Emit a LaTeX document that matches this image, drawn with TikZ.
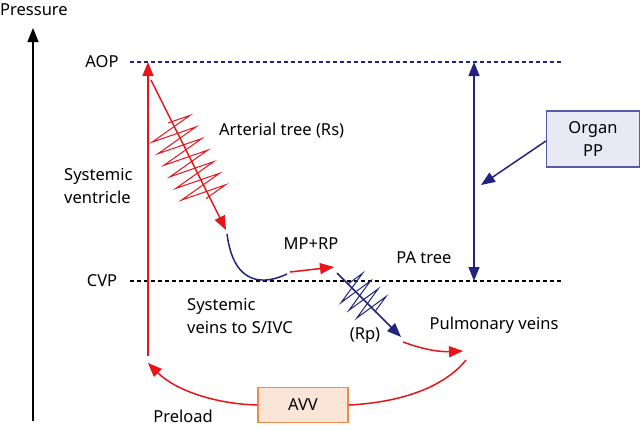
\documentclass[tikz,border=0pt]{standalone}
\usepackage{fontspec}
\setmainfont{Noto Sans}
\usetikzlibrary{arrows.meta,decorations.pathmorphing}
\definecolor{myred}{HTML}{E8141C}
\definecolor{mynavy}{HTML}{23237F}
\definecolor{avvfill}{HTML}{FBE5D6}
\definecolor{avvdraw}{HTML}{F08A4B}
\definecolor{ppfill}{HTML}{E9E9F5}
\definecolor{ppdraw}{HTML}{5A5AA8}
\tikzset{
  lbl/.style={font=\fontsize{16.5}{23}\selectfont, align=left, inner sep=0pt},
  redline/.style={draw=myred, line width=1.5pt},
  navyline/.style={draw=mynavy, line width=1.5pt},
  redtip/.style={-{Triangle[width=11pt,length=14pt]}},
  navytip/.style={-{Triangle[width=11pt,length=14pt]}},
  spring/.style={decorate, decoration={zigzag, amplitude=23pt, segment length=13pt}, line width=1pt},
  box/.style={font=\fontsize{16.5}{23}\selectfont, align=center, minimum width=#1, inner sep=0pt, line width=1.2pt},
}
\begin{document}
\begin{tikzpicture}[x=1pt,y=-1pt]
\useasboundingbox (0,0) rectangle (642,429);
% axis
\coordinate (axb) at (33,421);
\coordinate (axt) at (33,28);
\draw[line width=1.5pt, -{Triangle[width=11pt,length=14pt]}] (axb) -- (axt);
\node[lbl, anchor=west] (pres) at (0,10) {Pressure};
% levels
\node[lbl] (aopl) at (102,62) {AOP};
\node[lbl] (cvpl) at (102,281) {CVP};
\coordinate (aop1) at (130,62); \coordinate (aop2) at (562,62);
\coordinate (cvp1) at (130,281); \coordinate (cvp2) at (562,281);
\draw[mynavy, line width=1.2pt, dash pattern=on 4pt off 3pt] (aop1) -- (aop2);
\draw[black, line width=1.2pt, dash pattern=on 4pt off 3pt] (cvp1) -- (cvp2);
% systemic ventricle
\coordinate (sv0) at (148,356);
\coordinate (sv1) at (148,62);
\draw[redline, redtip] (sv0) -- (sv1);
\node[lbl, anchor=west] (svl) at (64,186) {Systemic\\ventricle};
% arterial tree
\coordinate (at0) at (151,80);
\coordinate (at1) at (226,230);
\draw[redline, redtip] (at0) -- (at1);
\coordinate (sp0) at (168,123);
\coordinate (sp1) at (207,199);
\draw[myred, spring] (sp0) -- (sp1);
\node[lbl, anchor=west] (atl) at (219,131) {Arterial tree (Rs)};
% systemic veins curve
\coordinate (vc0) at (227,234);
\coordinate (vc1) at (287,274);
\draw[navyline] (vc0) .. controls (234,288) and (266,284) .. (vc1);
\node[lbl, anchor=west] (svv) at (187,316) {Systemic\\veins to S/IVC};
% MP+RP
\coordinate (mp0) at (290,272);
\coordinate (mp1) at (334,267);
\draw[redline, redtip] (mp0) -- (mp1);
\node[lbl] (mpl) at (311,244) {MP+RP};
% pulmonary arterial
\coordinate (pa0) at (337,273);
\coordinate (pa1) at (401,337);
\draw[navyline, navytip] (pa0) -- (pa1);
\coordinate (ps0) at (348,284);
\coordinate (ps1) at (376,312);
\draw[mynavy, spring, decoration={amplitude=18pt, segment length=11pt}] (ps0) -- (ps1);
\node[lbl] (rpl) at (365,336) {(Rp)};
\node[lbl] (patl) at (424,258) {PA tree};
% pulmonary veins
\coordinate (pv0) at (403,342);
\coordinate (pv1) at (463,351);
\draw[redline, redtip] (pv0) .. controls (425,350) and (440,352) .. (pv1);
\node[lbl] (pvl) at (494,325) {Pulmonary veins};
% AVV
\coordinate (bc0) at (466,360);
\coordinate (bc1) at (148,363);
\node[box=90pt, minimum height=35pt, fill=avvfill, draw=avvdraw] (avv) at (303,405) {AVV};
\draw[redline] (bc0) .. controls (440,392) and (390,403) .. (avv.east);
\draw[redline, redtip] (avv.west) .. controls (215,404) and (175,390) .. (bc1);
\node[lbl] (prel) at (183,416) {Preload};
% organ PP
\coordinate (pp0) at (474,281);
\coordinate (pp1) at (474,62);
\draw[navyline, {Triangle[width=11pt,length=14pt]}-{Triangle[width=11pt,length=14pt]}] (pp0) -- (pp1);
\node[box=93pt, minimum height=56pt, fill=ppfill, draw=ppdraw] (opp) at (593,139) {Organ\\PP};
\coordinate (ppa) at (481,185);
\draw[navyline, navytip] (opp.west) ++(0,2) -- (ppa);
\end{tikzpicture}
\end{document}
